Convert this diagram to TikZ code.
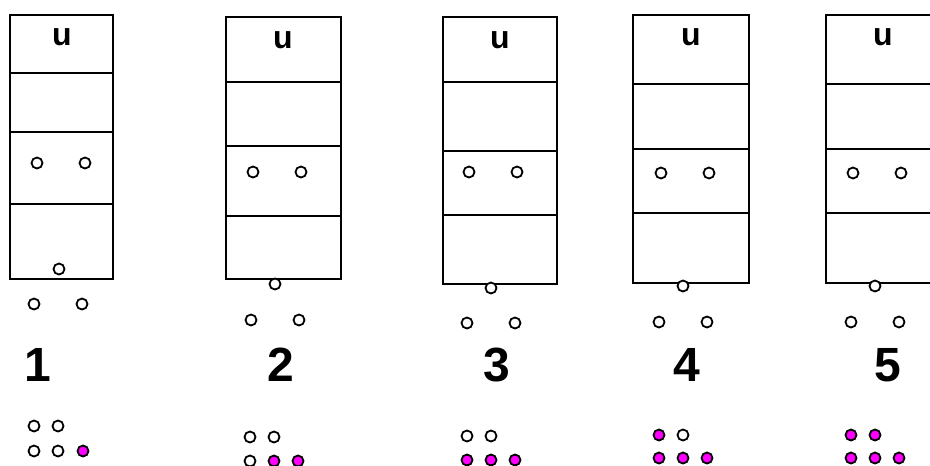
\documentclass[tikz,border=0pt]{standalone}
\usepackage{xcolor}
\usepackage{fontspec}
\setmainfont{Liberation Sans}
\usepackage{tikz}
\usetikzlibrary{positioning}
\definecolor{pinkball}{RGB}{255,0,255}

\begin{document}
\begin{tikzpicture}[
  x=1pt, y=-1pt,
  cell/.style={draw, line width=2.6pt, minimum width=#1, inner sep=0pt, outer sep=0pt},
  cell/.default=103pt,
  ball/.style={circle, draw, line width=1.8pt, minimum size=11pt, inner sep=0pt, fill=#1},
  ball/.default=white,
  tag/.style={font=\fontsize{32}{32}\selectfont\bfseries, inner sep=0pt},
  num/.style={font=\fontsize{48}{48}\selectfont\bfseries, inner sep=0pt}]
  \useasboundingbox (0,0) rectangle (930,466);
  \clip (0,0) rectangle (930,466);
  \node[cell=103pt, minimum height=58pt, anchor=north] (s1a) at (61.5,15) {};
  \node[cell=103pt, minimum height=59pt, below=0pt of s1a] (s1b) {};
  \node[cell=103pt, minimum height=72pt, below=0pt of s1b] (s1c) {};
  \node[cell=103pt, minimum height=75pt, below=0pt of s1c] (s1d) {};
  \node[tag] (u1) at (62,37) {u};
  \node[ball] (m1l) at (37,163) {};
  \node[ball] (m1r) at (85,163) {};
  \node[ball] (low1) at (59,269) {};
  \node[ball] (o1l) at (34,304) {};
  \node[ball] (o1r) at (82,304) {};
  \node[num] (n1) at (38,365) {1};
  \node[ball] (k1a) at (34,426) {};
  \node[ball] (k1b) at (58,426) {};
  \node[ball] (k1c) at (34,451) {};
  \node[ball] (k1d) at (58,451) {};
  \node[ball=pinkball] (k1e) at (83,451) {};

  \node[cell=115pt, minimum height=65pt, anchor=north] (s2a) at (283.5,17) {};
  \node[cell=115pt, minimum height=64pt, below=0pt of s2a] (s2b) {};
  \node[cell=115pt, minimum height=70pt, below=0pt of s2b] (s2c) {};
  \node[cell=115pt, minimum height=63pt, below=0pt of s2c] (s2d) {};
  \node[tag] (u2) at (283,40) {u};
  \node[ball] (m2l) at (253,172) {};
  \node[ball] (m2r) at (301,172) {};
  \node[ball] (low2) at (275,284) {};
  \node[ball] (o2l) at (251,320) {};
  \node[ball] (o2r) at (299,320) {};
  \node[num] (n2) at (281,365) {2};
  \node[ball] (k2a) at (250,437) {};
  \node[ball] (k2b) at (274,437) {};
  \node[ball] (k2c) at (250,461) {};
  \node[ball=pinkball] (k2d) at (274,461) {};
  \node[ball=pinkball] (k2e) at (298,461) {};

  \node[cell=114pt, minimum height=65pt, anchor=north] (s3a) at (500,17) {};
  \node[cell=114pt, minimum height=69pt, below=0pt of s3a] (s3b) {};
  \node[cell=114pt, minimum height=64pt, below=0pt of s3b] (s3c) {};
  \node[cell=114pt, minimum height=69pt, below=0pt of s3c] (s3d) {};
  \node[tag] (u3) at (500,40) {u};
  \node[ball] (m3l) at (469,172) {};
  \node[ball] (m3r) at (517,172) {};
  \node[ball] (low3) at (491,288) {};
  \node[ball] (o3l) at (467,323) {};
  \node[ball] (o3r) at (515,323) {};
  \node[num] (n3) at (497,365) {3};
  \node[ball] (k3a) at (467,436) {};
  \node[ball] (k3b) at (491,436) {};
  \node[ball=pinkball] (k3c) at (467,460) {};
  \node[ball=pinkball] (k3d) at (491,460) {};
  \node[ball=pinkball] (k3e) at (515,460) {};

  \node[cell=116pt, minimum height=69pt, anchor=north] (s4a) at (691,15) {};
  \node[cell=116pt, minimum height=65pt, below=0pt of s4a] (s4b) {};
  \node[cell=116pt, minimum height=64pt, below=0pt of s4b] (s4c) {};
  \node[cell=116pt, minimum height=70pt, below=0pt of s4c] (s4d) {};
  \node[tag] (u4) at (691,37) {u};
  \node[ball] (m4l) at (661,173) {};
  \node[ball] (m4r) at (709,173) {};
  \node[ball] (low4) at (683,286) {};
  \node[ball] (o4l) at (659,322) {};
  \node[ball] (o4r) at (707,322) {};
  \node[num] (n4) at (687,365) {4};
  \node[ball=pinkball] (k4a) at (659,435) {};
  \node[ball] (k4b) at (683,435) {};
  \node[ball=pinkball] (k4c) at (659,458) {};
  \node[ball=pinkball] (k4d) at (683,458) {};
  \node[ball=pinkball] (k4e) at (707,458) {};

  \node[cell=116pt, minimum height=69pt, anchor=north] (s5a) at (884,15) {};
  \node[cell=116pt, minimum height=65pt, below=0pt of s5a] (s5b) {};
  \node[cell=116pt, minimum height=64pt, below=0pt of s5b] (s5c) {};
  \node[cell=116pt, minimum height=70pt, below=0pt of s5c] (s5d) {};
  \node[tag] (u5) at (883,37) {u};
  \node[ball] (m5l) at (853,173) {};
  \node[ball] (m5r) at (901,173) {};
  \node[ball] (low5) at (875,286) {};
  \node[ball] (o5l) at (851,322) {};
  \node[ball] (o5r) at (899,322) {};
  \node[num] (n5) at (888,365) {5};
  \node[ball=pinkball] (k5a) at (851,435) {};
  \node[ball=pinkball] (k5b) at (875,435) {};
  \node[ball=pinkball] (k5c) at (851,458) {};
  \node[ball=pinkball] (k5d) at (875,458) {};
  \node[ball=pinkball] (k5e) at (899,458) {};
\end{tikzpicture}
\end{document}
